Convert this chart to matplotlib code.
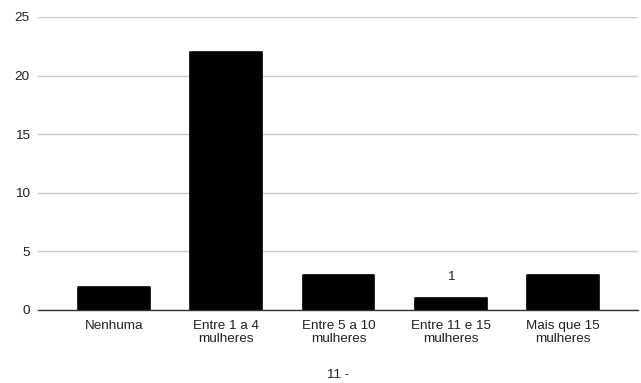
import matplotlib.pyplot as plt

plt.rcParams['font.family'] = ['Liberation Sans', 'DejaVu Sans']

categories = ['Nenhuma', 'Entre 1 a 4\nmulheres', 'Entre 5 a 10\nmulheres',
              'Entre 11 e 15\nmulheres', 'Mais que 15\nmulheres']
values = [2, 22, 3, 1, 3]
labelled = [False, False, False, True, False]
y_ticks = [0, 5, 10, 15, 20, 25]
x_title = '11 -'

fig = plt.figure(figsize=(6.41, 3.83), dpi=100)
ax = fig.add_axes([38 / 641, 73 / 383, 600 / 641, 293 / 383])

x = range(len(categories))
bars = ax.bar(x, values, width=0.64, color='black', edgecolor='black',
              linewidth=1.2, joinstyle='round', zorder=3)

for bar, v, show in zip(bars, values, labelled):
    if show:
        ax.annotate(str(v), (bar.get_x() + bar.get_width() / 2, v),
                    xytext=(0, 11), textcoords='offset points',
                    ha='center', va='bottom', fontsize=9.7, color='#222222')

ax.set_xlim(-0.677, 4.668)
ax.set_ylim(0, 25)
ax.set_yticks(y_ticks)
ax.set_xticks(list(x))
ax.set_xticklabels(categories, fontsize=9.7, color='#222222', linespacing=1.15)
ax.tick_params(axis='y', labelsize=9.7, labelcolor='#222222', length=0, pad=6)
ax.tick_params(axis='x', length=0, pad=7)

ax.grid(axis='y', color='#cccccc', linewidth=1, zorder=0)
for side in ['top', 'right', 'left']:
    ax.spines[side].set_visible(False)
ax.spines['bottom'].set_color('#333333')
ax.spines['bottom'].set_linewidth(1)
ax.spines['bottom'].set_zorder(4)

ax.set_xlabel(x_title, fontsize=9.7, color='#222222', labelpad=17)

fig.savefig('out.png', dpi=100)
